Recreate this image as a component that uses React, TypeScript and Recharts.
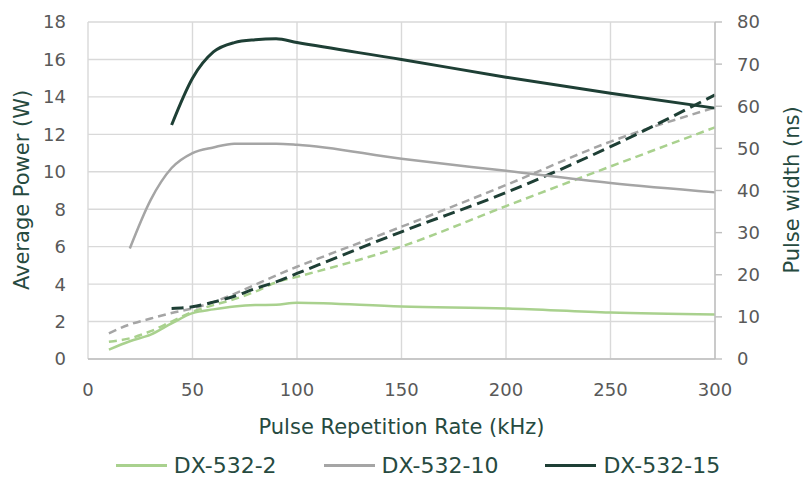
import { LineChart, Line, XAxis, YAxis, CartesianGrid, Legend } from "recharts";

// x axis
const rateTicks = [0, 50, 100, 150, 200, 250, 300];
const powerTicks = [0, 2, 4, 6, 8, 10, 12, 14, 16, 18];
const widthTicks = [0, 10, 20, 30, 40, 50, 60, 70, 80];

// DX-532-2
const rate2 = [10, 20, 30, 40, 50, 60, 70, 80, 90, 100, 150, 200, 250, 300];
const power2 = [0.5, 0.95, 1.3, 1.9, 2.45, 2.65, 2.8, 2.88, 2.9, 3.0, 2.8, 2.7, 2.48, 2.38];
const pulse2 = [4.1, 4.9, 6.6, 8.9, 11.2, 12.8, 14.2, 16.0, 18.2, 19.5, 26.7, 36.3, 45.7, 55.0];

// DX-532-10
const rate10 = [20, 30, 40, 50, 60, 70, 80, 90, 100, 150, 200, 250, 300];
const power10 = [5.9, 8.5, 10.2, 11.0, 11.3, 11.5, 11.5, 11.5, 11.45, 10.7, 10.05, 9.4, 8.9];
const rate10Pulse = [10, 20, 30, 40, 50, 100, 150, 200, 250, 300];
const pulse10 = [6.1, 8.2, 9.6, 10.9, 12.0, 21.9, 31.4, 41.3, 51.6, 59.7];

// DX-532-15
const rate15 = [40, 50, 60, 70, 80, 90, 100, 150, 200, 250, 300];
const power15 = [12.5, 15.0, 16.4, 16.9, 17.05, 17.1, 16.9, 16.0, 15.05, 14.2, 13.4];
const pulse15 = [12.0, 12.4, 13.5, 14.9, 16.7, 18.3, 20.3, 30.2, 39.5, 50.4, 62.7];

const models = ["DX-532-2", "DX-532-10", "DX-532-15"];
const colors = ["#a9d18e", "#a5a5a5", "#1e3f35"];

const zip = (xs: number[], ys: number[]) => xs.map((x, i) => ({ rate: x, value: ys[i] }));

const FONT = "Verdana, 'DejaVu Sans', sans-serif";
const TITLE = "#264a3f";
const TICK = { fontSize: 18, fill: "#595959", fontFamily: FONT };

const LegendContent = () => (
  <div
    style={{
      display: "flex",
      justifyContent: "center",
      alignItems: "center",
      paddingLeft: 31,
      height: 24,
      fontFamily: FONT,
      fontSize: 22,
      color: TITLE,
    }}
  >
    {models.map((m, i) => (
      <div key={m} style={{ display: "flex", alignItems: "center", marginRight: i < models.length - 1 ? 47 : 0 }}>
        <div style={{ width: 51, height: 3, background: colors[i] }} />
        <span style={{ marginLeft: 7 }}>{m}</span>
      </div>
    ))}
  </div>
);

export default function App() {
  return (
    <div style={{ position: "absolute", left: 0, top: 0, width: 805, height: 477, background: "#fff" }}>
      <LineChart width={805} height={477} margin={{ top: 22, right: 0, left: 0, bottom: 0 }}>
        <CartesianGrid yAxisId="left" stroke="#d9d9d9" strokeWidth={1.4} />
        <XAxis
          dataKey="rate"
          type="number"
          domain={[0, 300]}
          ticks={rateTicks}
          allowDuplicatedCategory={false}
          height={94}
          tickSize={0}
          tickMargin={24}
          tick={TICK}
          axisLine={{ stroke: "#bfbfbf", strokeWidth: 1.4 }}
          label={{
            value: "Pulse Repetition Rate (kHz)",
            position: "insideBottom",
            offset: 19,
            fill: TITLE,
            fontSize: 21,
            fontFamily: FONT,
          }}
        />
        <YAxis
          yAxisId="left"
          domain={[0, 18]}
          ticks={powerTicks}
          width={88}
          tickSize={0}
          tickMargin={22}
          axisLine={false}
          tick={TICK}
          label={{
            content: () => (
              <text
                transform="translate(22,190) rotate(-90)"
                textAnchor="middle"
                dominantBaseline="central"
                fill={TITLE}
                fontSize={21}
                fontFamily={FONT}
              >
                Average Power (W)
              </text>
            ),
          }}
        />
        <YAxis
          yAxisId="right"
          orientation="right"
          domain={[0, 80]}
          ticks={widthTicks}
          width={90}
          tickSize={7}
          tickMargin={15}
          axisLine={{ stroke: "#bfbfbf", strokeWidth: 1.4 }}
          tickLine={{ stroke: "#bfbfbf", strokeWidth: 1.4 }}
          tick={{ ...TICK, textAnchor: "start" }}
          label={{
            content: () => (
              <text
                transform="translate(792,190) rotate(-90)"
                textAnchor="middle"
                dominantBaseline="central"
                fill={TITLE}
                fontSize={21}
                fontFamily={FONT}
              >
                Pulse width (ns)
              </text>
            ),
          }}
        />
        <Legend verticalAlign="bottom" height={24} content={<LegendContent />} />

        {/* pulse width, dashed, right axis */}
        <Line yAxisId="right" data={zip(rate2, pulse2)} dataKey="value" type="monotone" stroke={colors[0]}
          strokeWidth={2.5} strokeDasharray="8 5" dot={false} isAnimationActive={false} legendType="none" />
        <Line yAxisId="right" data={zip(rate10Pulse, pulse10)} dataKey="value" type="monotone" stroke={colors[1]}
          strokeWidth={2.5} strokeDasharray="8 5" dot={false} isAnimationActive={false} legendType="none" />
        <Line yAxisId="right" data={zip(rate15, pulse15)} dataKey="value" type="monotone" stroke={colors[2]}
          strokeWidth={3} strokeDasharray="12 6" dot={false} isAnimationActive={false} legendType="none" />

        {/* average power, solid, left axis */}
        <Line yAxisId="left" data={zip(rate2, power2)} dataKey="value" type="monotone" stroke={colors[0]}
          strokeWidth={2.5} dot={false} isAnimationActive={false} name={models[0]} />
        <Line yAxisId="left" data={zip(rate10, power10)} dataKey="value" type="monotone" stroke={colors[1]}
          strokeWidth={2.5} dot={false} isAnimationActive={false} name={models[1]} />
        <Line yAxisId="left" data={zip(rate15, power15)} dataKey="value" type="monotone" stroke={colors[2]}
          strokeWidth={3} dot={false} isAnimationActive={false} name={models[2]} />
      </LineChart>
    </div>
  );
}
